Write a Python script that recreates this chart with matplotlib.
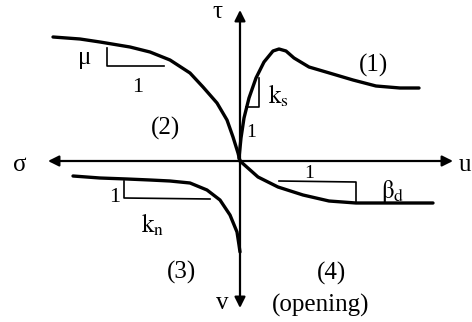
import matplotlib
matplotlib.use("Agg")
import matplotlib.pyplot as plt

plt.rcParams['font.family'] = ['Liberation Serif', 'DejaVu Serif']
plt.rcParams['mathtext.fontset'] = 'stix'

# curves, in diagram units (origin = axes crossing)
# (1) shear stress tau vs shear displacement u
c1_x = [0, -1, 1, 4, 9, 16, 24, 33, 39, 46, 54, 69, 86, 113, 136, 160, 179]
c1_y = [0, 3, 23, 43, 63, 83, 99, 110, 112, 110, 103, 94, 89, 81, 75, 73, 73]
# (2) tau vs normal stress sigma
c2_x = [-187, -160, -140, -110, -90, -70, -50, -37, -23, -13, -7, -2, 0]
c2_y = [124, 122, 119, 114, 109, 101, 88, 74, 58, 41, 24, 8, 0]
# (3) sigma vs normal displacement v
c3_x = [-167, -140, -113, -90, -70, -50, -33, -20, -10, -3, -1, 0]
c3_y = [-15, -17, -18, -19, -20, -22, -29, -39, -54, -71, -84, -91]
# (4) dilation v vs u
c4_x = [0, 18, 38, 63, 89, 116, 146, 193]
c4_y = [0, -16, -26, -34, -40, -42, -42, -42]

# slope triangles
mu_x, mu_y = [-133, -133, -76], [113, 95, 95]
ks_x, ks_y = [6, 19, 19], [54, 54, 83]
kn_x, kn_y = [-116, -116, -30], [-20, -37, -38]
bd_x, bd_y = [39, 116, 116], [-20, -21, -42]

# axis extents
h_axis = (-192, 213)
v_axis = (-147, 151)

fig = plt.figure(figsize=(4.72, 3.22), dpi=100)
ax = fig.add_axes([0, 0, 1, 1])
ax.set_xlim(-240, 232)
ax.set_ylim(-161, 161)
ax.axis('off')

arrow = dict(arrowstyle='<|-|>', color='black', lw=1.6, mutation_scale=16,
             shrinkA=0, shrinkB=0)
ax.annotate('', xy=(h_axis[0], 0), xytext=(h_axis[1], 0), arrowprops=arrow)
ax.annotate('', xy=(0, v_axis[0]), xytext=(0, v_axis[1]), arrowprops=arrow)

for xs, ys in [(c1_x, c1_y), (c2_x, c2_y), (c3_x, c3_y), (c4_x, c4_y)]:
    ax.plot(xs, ys, color='black', lw=2.4, solid_capstyle='round',
            solid_joinstyle='round')

for xs, ys in [(mu_x, mu_y), (ks_x, ks_y), (kn_x, kn_y), (bd_x, bd_y)]:
    ax.plot(xs, ys, color='black', lw=1.2)

fs = 18
def lab(x, y, s, size=fs):
    ax.text(x, y, s, fontsize=size, ha='center', va='center')

lab(-23, 149, 'τ')
lab(-220, -4, 'σ')
lab(225, -4, 'u')
lab(-18, -142, 'v')
lab(-155, 103, 'μ')
lab(-102, 74, '1', 16)
lab(-75, 33, '(2)')
lab(134, 96, '(1)')
lab(39, 65, r'$\mathrm{k_s}$')
lab(11, 29, '1', 14)
lab(-125, -36, '1', 16)
lab(-87, -64, r'$\mathrm{k_n}$')
lab(-58, -111, '(3)')
lab(69, -12, '1', 14)
lab(153, -31, r'$\mathrm{\beta_d}$')
lab(91, -112, '(4)')
lab(81, -144, '(opening)')

fig.savefig('out.png', dpi=100)
